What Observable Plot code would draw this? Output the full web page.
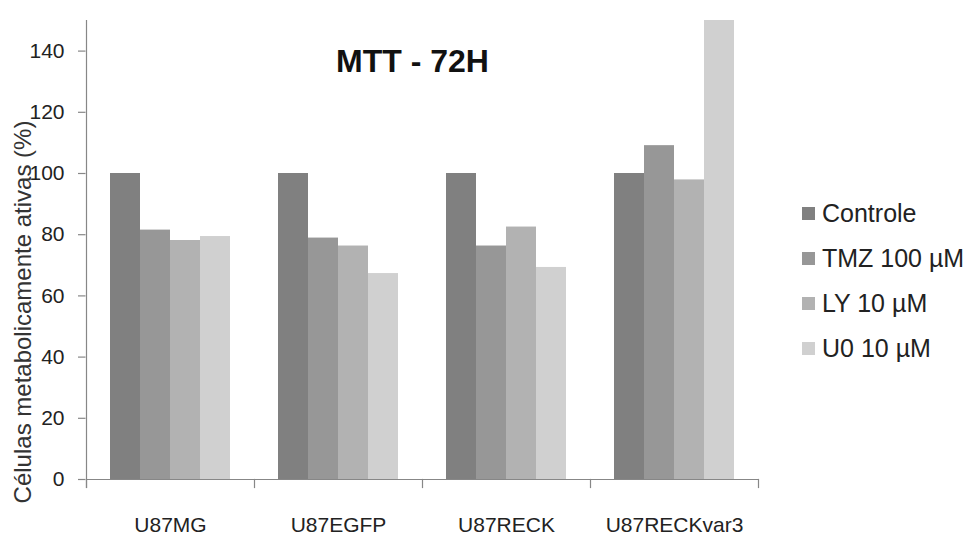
<!DOCTYPE html>
<html>
<head>
<meta charset="utf-8">
<script src="https://cdn.jsdelivr.net/npm/d3@7"></script>
<script src="https://cdn.jsdelivr.net/npm/@observablehq/plot@0.6"></script>
<style>
  html, body { margin: 0; padding: 0; background: #fff; }
  #wrap { position: relative; width: 971px; height: 538px; font-family: "Liberation Sans", Arial, sans-serif; }
  #legend { position: absolute; left: 802px; top: 191px; }
  .row { display: flex; align-items: center; height: 45px; font-size: 25px; color: #222; }
  .sw { width: 13px; height: 13px; margin-right: 7px; }
</style>
</head>
<body>
<div id="wrap"></div>
<script>
const title = "MTT - 72H";
const yLabel = "Células metabolicamente ativas (%)";
const cells = ["U87MG", "U87EGFP", "U87RECK", "U87RECKvar3"];
const treatments = ["Controle", "TMZ 100 µM", "LY 10 µM", "U0 10 µM"];
const controle = [100, 100, 100, 100];
const tmz = [81.5, 78.9, 76.3, 109.1];
const ly = [78.1, 76.3, 82.5, 97.9];
const u0 = [79.4, 67.3, 69.3, 150];
const colors = ["#808080", "#979797", "#b2b2b2", "#d0d0d0"];
const yTicks = [0, 20, 40, 60, 80, 100, 120, 140];

const series = [controle, tmz, ly, u0];
const data = [];
cells.forEach((c, i) => treatments.forEach((t, j) => data.push({cell: c, treatment: t, value: series[j][i]})));

const W = 971, H = 538, mt = 20, mb = 59, ml = 85, mr = 212;
const axisColor = "#878787";
const innerH = H - mt - mb;
const facetW = (W - ml - mr) / cells.length;

const chart = Plot.plot({
  width: W, height: H,
  marginTop: mt, marginBottom: mb, marginLeft: ml, marginRight: mr,
  style: {fontFamily: "'Liberation Sans', Arial, sans-serif", fontSize: "21px", background: "#fff", color: "#222"},
  fx: {domain: cells, padding: 0, label: null},
  x: {domain: treatments, paddingInner: 0, paddingOuter: 0.8, axis: null},
  y: {domain: [0, 150], label: null, axis: null},
  color: {domain: treatments, range: colors},
  marks: [
    Plot.barY(data, {fx: "cell", x: "treatment", y: "value", fill: "treatment"}),
    Plot.ruleY([0], {stroke: axisColor, strokeWidth: 1.2}),
    Plot.frame({anchor: "left", facetAnchor: "left", stroke: axisColor, strokeWidth: 1.2, insetBottom: -8}),
    Plot.frame({anchor: "left", stroke: axisColor, strokeWidth: 1.2, insetTop: innerH, insetBottom: -8}),
    Plot.frame({anchor: "right", facetAnchor: "right", stroke: axisColor, strokeWidth: 1.2, insetTop: innerH, insetBottom: -8}),
    Plot.tickY(yTicks, {y: d => d, facetAnchor: "left", stroke: axisColor, strokeWidth: 1.2, insetLeft: -8, insetRight: facetW}),
    Plot.text(yTicks, {y: d => d, text: d => String(d), facetAnchor: "left", frameAnchor: "left", textAnchor: "end", dx: -22, fontSize: 21, fill: "#222"}),
    Plot.axisFx({anchor: "bottom", tickSize: 0, tickPadding: 38, fontSize: 21, label: null, fill: "#222"}),
    Plot.text([{cell: cells[0], t: yLabel}], {fx: "cell", text: "t", frameAnchor: "left", textAnchor: "middle", lineAnchor: "middle", rotate: -90, dx: -63, dy: 62, fontSize: 24, fill: "#333"}),
    Plot.text([{cell: cells[1], t: title}], {fx: "cell", text: "t", frameAnchor: "top-right", textAnchor: "middle", lineAnchor: "middle", dx: -10, dy: 41, fontSize: 32, fontWeight: "bold", fill: "#111"})
  ]
});

const wrap = document.getElementById("wrap");
wrap.appendChild(chart);
const legend = document.createElement("div");
legend.id = "legend";
treatments.forEach((t, i) => {
  const row = document.createElement("div");
  row.className = "row";
  const sw = document.createElement("div");
  sw.className = "sw";
  sw.style.background = colors[i];
  const lab = document.createElement("span");
  lab.textContent = t;
  row.appendChild(sw);
  row.appendChild(lab);
  legend.appendChild(row);
});
wrap.appendChild(legend);
</script>
</body>
</html>
